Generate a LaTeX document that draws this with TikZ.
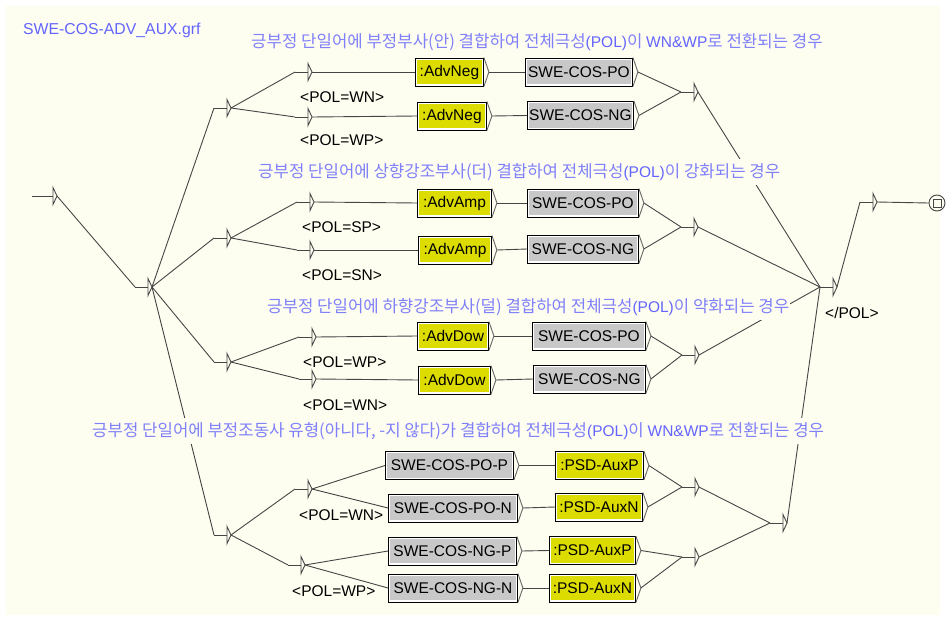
\documentclass[tikz,border=0pt]{standalone}
\usepackage{fontspec}
\setmainfont{Liberation Sans}
\newfontfamily\kr{Noto Sans CJK KR}
\definecolor{bg}{RGB}{253,253,240}
\definecolor{yel}{RGB}{220,220,0}
\definecolor{gry}{RGB}{200,200,200}
\definecolor{cblue}{RGB}{100,100,255}
\definecolor{klight}{RGB}{128,128,250}
\definecolor{wirec}{RGB}{70,70,70}
\newcommand\lat[1]{{\rmfamily\fontsize{15.5}{16}\selectfont\color{cblue}#1}}
\tikzset{
  wire/.style={draw=wirec, line width=0.9pt},
  tri/.style={draw=wirec, line width=0.9pt, fill=bg, line join=miter},
  chevs/.style={draw=black!60, line width=0.9pt},
  tbox/.style={draw=black, line width=0.9pt, fill=white, minimum height=28pt, inner sep=0pt, anchor=west, font=\fontsize{15.5}{18}\selectfont},
  ybox/.style={tbox, path picture={\fill[yel] ([shift={(1.6pt,1.6pt)}]path picture bounding box.south west) rectangle ([shift={(-1.6pt,-1.6pt)}]path picture bounding box.north east);}},
  gbox/.style={tbox, path picture={\fill[gry] ([shift={(1.6pt,1.6pt)}]path picture bounding box.south west) rectangle ([shift={(-1.6pt,-1.6pt)}]path picture bounding box.north east);}},
  lbl/.style={anchor=west, inner sep=0pt, font=\fontsize{15.5}{18}\selectfont},
  cmt/.style={anchor=west, fill=bg, inner xsep=1pt, inner ysep=0pt, minimum height=26pt, text=klight, font=\kr\fontsize{16.75}{18}\selectfont},
}
% empty (epsilon) node: name, x, y
\newcommand\enode[3]{%
  \coordinate (#1) at (#2,#3);
  \coordinate (#1-in) at ([xshift=-13pt]#1);
  \coordinate (#1-out) at ([xshift=4pt]#1);
  \draw[wire] (#1-in) -- (#1);
  \draw[tri] ([yshift=8.5pt]#1) -- ([yshift=-8.5pt]#1) -- (#1-out) -- cycle;
}
\newcommand\chev[1]{%
  \coordinate (#1-out) at ([xshift=5pt]#1.east);
  \draw[chevs] (#1.north east) -- (#1-out) -- (#1.south east);
}
\begin{document}
\begin{tikzpicture}[x=1pt,y=-1pt]
\useasboundingbox (0,0) rectangle (946,621);
\fill[white] (0,0) rectangle (946,621);
\fill[bg] (6,6) rectangle (940,615);

\node[anchor=west, inner sep=0pt, text=cblue, font=\fontsize{15.8}{18}\selectfont] (title) at (23,30) {SWE-COS-ADV\_AUX.grf};

% empty nodes
\enode{S0}{53}{196}
\enode{hub}{148}{287}
\enode{A}{227}{108}
\enode{A1}{308}{72}
\enode{A2}{308}{117}
\enode{E1}{694}{92}
\enode{B}{227}{238}
\enode{B1}{310}{202}
\enode{B2}{310}{250}
\enode{E2}{694}{227}
\enode{C}{227}{362}
\enode{C1}{312}{337}
\enode{C2}{312}{379}
\enode{E3}{695}{355}
\enode{D}{227}{535}
\enode{D1}{308}{489}
\enode{D2}{301}{565}
\enode{H1}{695}{487}
\enode{H2}{695}{557}
\enode{H}{783}{523}
\enode{F}{833}{287}
\enode{G}{873}{202}
\coordinate (start) at (32,196);
\node[draw=wirec, circle, minimum size=16pt, inner sep=0pt, line width=0.9pt, fill=bg] (fin) at (937,203) {};
\draw[wirec, line width=0.9pt] ([shift={(-4pt,-4pt)}]fin.center) rectangle ([shift={(4pt,4pt)}]fin.center);

% boxes group 1
\node[ybox, minimum width=68pt] (g1a) at (415,72) {:AdvNeg}; \chev{g1a}
\node[gbox, minimum width=107pt] (g1b) at (525,72) {SWE-COS-PO}; \chev{g1b}
\node[ybox, minimum width=69pt] (g1c) at (417,116) {:AdvNeg}; \chev{g1c}
\node[gbox, minimum width=106pt] (g1d) at (527,115.5) {SWE-COS-NG}; \chev{g1d}
% group 2
\node[ybox, minimum width=74pt] (g2a) at (417,203) {:AdvAmp}; \chev{g2a}
\node[gbox, minimum width=111pt] (g2b) at (527,203) {SWE-COS-PO}; \chev{g2b}
\node[ybox, minimum width=73pt] (g2c) at (418,250) {:AdvAmp}; \chev{g2c}
\node[gbox, minimum width=111pt] (g2d) at (527,249) {SWE-COS-NG}; \chev{g2d}
% group 3
\node[ybox, minimum width=71pt] (g3a) at (417,336) {:AdvDow}; \chev{g3a}
\node[gbox, minimum width=113pt] (g3b) at (532,336) {SWE-COS-PO}; \chev{g3b}
\node[ybox, minimum width=72pt] (g3c) at (418,380) {:AdvDow}; \chev{g3c}
\node[gbox, minimum width=112pt] (g3d) at (533,379) {SWE-COS-NG}; \chev{g3d}
% group 4
\node[gbox, minimum width=128pt] (g4a) at (385,465.5) {SWE-COS-PO-P}; \chev{g4a}
\node[gbox, minimum width=129pt] (g4b) at (388,508) {SWE-COS-PO-N}; \chev{g4b}
\node[gbox, minimum width=128pt] (g4c) at (388,551) {SWE-COS-NG-P}; \chev{g4c}
\node[gbox, minimum width=129pt] (g4d) at (388,588) {SWE-COS-NG-N}; \chev{g4d}
\node[ybox, minimum width=88pt] (g4e) at (555,465.5) {:PSD-AuxP}; \chev{g4e}
\node[ybox, minimum width=87pt] (g4f) at (555,507) {:PSD-AuxN}; \chev{g4f}
\node[ybox, minimum width=86pt] (g4g) at (549,550.5) {:PSD-AuxP}; \chev{g4g}
\node[ybox, minimum width=86pt] (g4h) at (549,588) {:PSD-AuxN}; \chev{g4h}

% outputs
\node[lbl] (oA1) at (300,97) {<POL=WN>};
\node[lbl] (oA2) at (300,140) {<POL=WP>};
\node[lbl] (oB1) at (302,227) {<POL=SP>};
\node[lbl] (oB2) at (302,275) {<POL=SN>};
\node[lbl] (oC1) at (303,362) {<POL=WP>};
\node[lbl] (oC2) at (303,405) {<POL=WN>};
\node[lbl] (oD1) at (299,515) {<POL=WN>};
\node[lbl] (oD2) at (292,591) {<POL=WP>};
\node[lbl] (oF) at (825,313) {</POL>};

% connectors
\draw[wire] (start) -- (S0-in);
\draw[wire] (S0-out) -- (hub-in);
\foreach \t in {A,B,C,D} \draw[wire] (hub-out) -- (\t-in);
\draw[wire] (A-out) -- (A1-in);
\draw[wire] (A-out) -- (A2-in);
\draw[wire] (A1-out) -- (g1a.west);
\draw[wire] (g1a-out) -- (g1b.west);
\draw[wire] (A2-out) -- (g1c.west);
\draw[wire] (g1c-out) -- (g1d.west);
\draw[wire] (g1b-out) -- (E1-in);
\draw[wire] (g1d-out) -- (E1-in);
\draw[wire] (B-out) -- (B1-in);
\draw[wire] (B-out) -- (B2-in);
\draw[wire] (B1-out) -- (g2a.west);
\draw[wire] (g2a-out) -- (g2b.west);
\draw[wire] (B2-out) -- (g2c.west);
\draw[wire] (g2c-out) -- (g2d.west);
\draw[wire] (g2b-out) -- (E2-in);
\draw[wire] (g2d-out) -- (E2-in);
\draw[wire] (C-out) -- (C1-in);
\draw[wire] (C-out) -- (C2-in);
\draw[wire] (C1-out) -- (g3a.west);
\draw[wire] (g3a-out) -- (g3b.west);
\draw[wire] (C2-out) -- (g3c.west);
\draw[wire] (g3c-out) -- (g3d.west);
\draw[wire] (g3b-out) -- (E3-in);
\draw[wire] (g3d-out) -- (E3-in);
\draw[wire] (D-out) -- (D1-in);
\draw[wire] (D-out) -- (D2-in);
\draw[wire] (D1-out) -- (g4a.west);
\draw[wire] (D1-out) -- (g4b.west);
\draw[wire] (D2-out) -- (g4c.west);
\draw[wire] (D2-out) -- (g4d.west);
\draw[wire] (g4a-out) -- (g4e.west);
\draw[wire] (g4b-out) -- (g4f.west);
\draw[wire] (g4c-out) -- (g4g.west);
\draw[wire] (g4d-out) -- (g4h.west);
\draw[wire] (g4e-out) -- (H1-in);
\draw[wire] (g4f-out) -- (H1-in);
\draw[wire] (g4g-out) -- (H2-in);
\draw[wire] (g4h-out) -- (H2-in);
\draw[wire] (H1-out) -- (H-in);
\draw[wire] (H2-out) -- (H-in);
\foreach \s in {E1,E2,E3,H} \draw[wire] (\s-out) -- (F-in);
\draw[wire] (F-out) -- (G-in);
\draw[wire] (G-out) -- (fin.west);

% comments (drawn last, over the wires)
\node[cmt] (c1) at (250,42) {긍부정 단일어에 부정부사(안) 결합하여 전체극성\lat{(POL)}이 \lat{WN\&WP}로 전환되는 경우};
\node[cmt] (c2) at (257,172) {긍부정 단일어에 상향강조부사(더) 결합하여 전체극성\lat{(POL)}이 강화되는 경우};
\node[cmt] (c3) at (266,307) {긍부정 단일어에 하향강조부사(덜) 결합하여 전체극성\lat{(POL)}이 약화되는 경우};
\node[cmt] (c4) at (91,431) {긍부정 단일어에 부정조동사 유형(아니다, -지 않다)가 결합하여 전체극성\lat{(POL)}이 \lat{WN\&WP}로 전환되는 경우};
\end{tikzpicture}
\end{document}
